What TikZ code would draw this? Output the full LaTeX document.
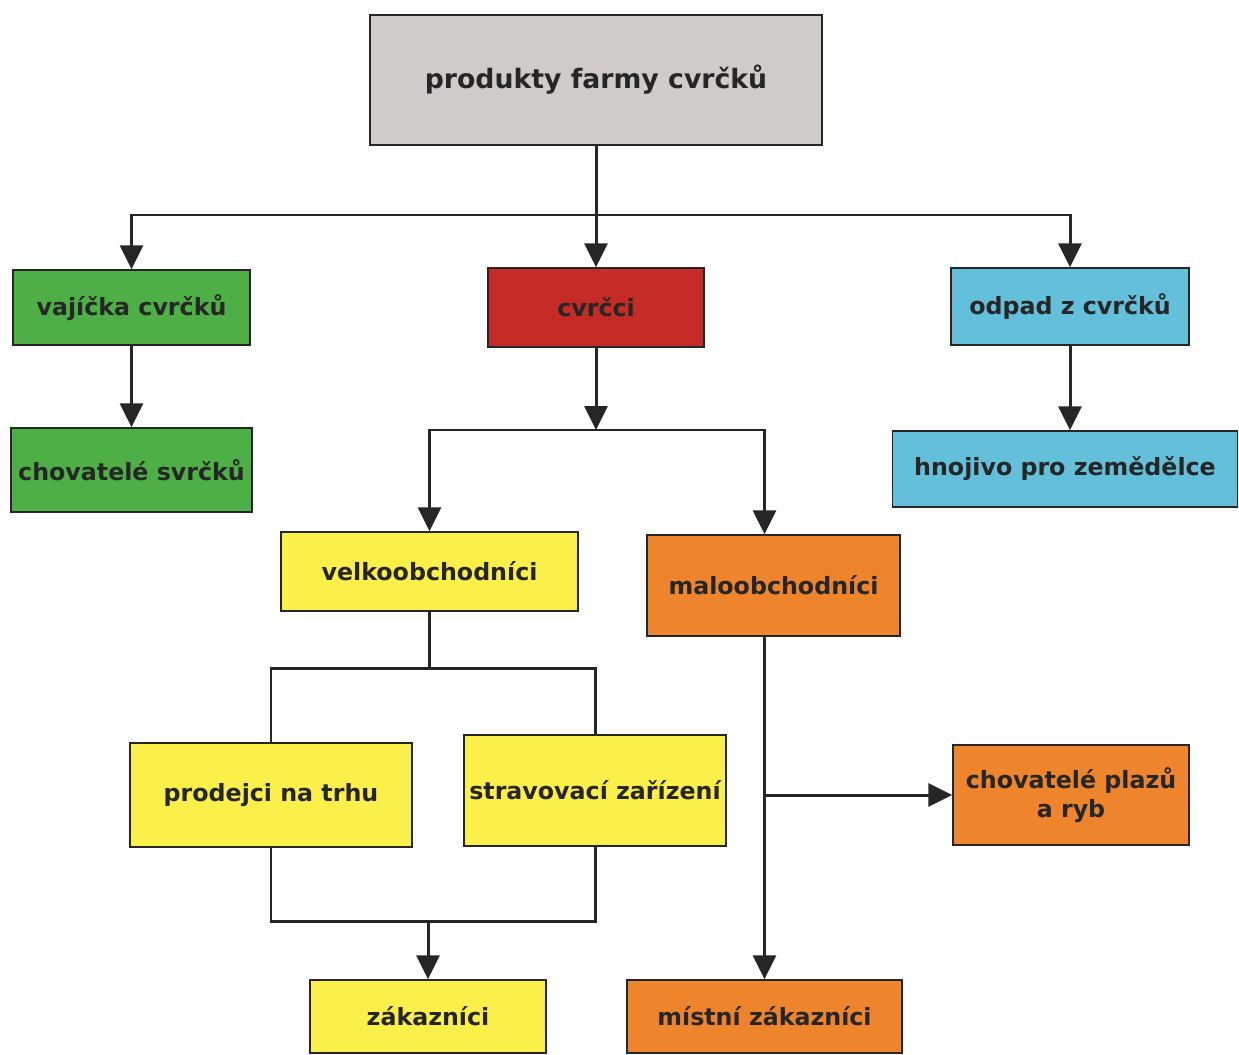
\documentclass[tikz,border=0pt]{standalone}
\usepackage{fontspec}
\setmainfont{DejaVu Sans}
\usetikzlibrary{arrows.meta}
\definecolor{boxgray}{HTML}{CFCBC9}
\definecolor{boxgreen}{HTML}{4DAF45}
\definecolor{boxred}{HTML}{C42B27}
\definecolor{boxblue}{HTML}{63BFDA}
\definecolor{boxyellow}{HTML}{FBEF4A}
\definecolor{boxorange}{HTML}{EE842C}
\definecolor{linegray}{HTML}{262626}
\begin{document}
\begin{tikzpicture}[x=0.02cm, y=-0.02cm,
    box/.style={draw=linegray, line width=0.8pt, inner sep=0pt, align=center,
      text=black!85, font=\bfseries\fontsize{13.5}{16.5}\selectfont},
    link/.style={draw=linegray, line width=1.7pt},
    arr/.style={link, -{Triangle[length=0.48cm, width=0.46cm]}}]
  \useasboundingbox (0,0) rectangle (1239,1054);
  \node[box, fill=boxgray, minimum width=452*0.02cm, minimum height=130*0.02cm,
    font=\bfseries\fontsize{15.2}{18}\selectfont] (farm) at (596,80) {produkty farmy cvrčků};
  \node[box, fill=boxgreen, minimum width=237*0.02cm, minimum height=75*0.02cm] (eggs) at (131.5,307.5) {vajíčka cvrčků};
  \node[box, fill=boxred, minimum width=216*0.02cm, minimum height=79*0.02cm] (crickets) at (596,307.5) {cvrčci};
  \node[box, fill=boxblue, minimum width=238*0.02cm, minimum height=77*0.02cm] (waste) at (1070,306.5) {odpad z cvrčků};
  \node[box, fill=boxgreen, minimum width=241*0.02cm, minimum height=84*0.02cm] (keepers) at (131.5,470) {chovatelé svrčků};
  \node[box, fill=boxblue, minimum width=345*0.02cm, minimum height=76*0.02cm] (fertilizer) at (1065,469) {hnojivo pro zemědělce};
  \node[box, fill=boxyellow, minimum width=297*0.02cm, minimum height=79*0.02cm] (wholesale) at (429.5,571.5) {velkoobchodníci};
  \node[box, fill=boxorange, minimum width=253*0.02cm, minimum height=101*0.02cm] (retail) at (773.5,585.5) {maloobchodníci};
  \node[box, fill=boxyellow, minimum width=282*0.02cm, minimum height=104*0.02cm] (market) at (271,795) {prodejci na trhu};
  \node[box, fill=boxyellow, minimum width=262*0.02cm, minimum height=111*0.02cm] (catering) at (595,790.5) {stravovací zařízení};
  \node[box, fill=boxorange, minimum width=236*0.02cm, minimum height=100*0.02cm] (reptiles) at (1071,795) {chovatelé plazů\\a ryb};
  \node[box, fill=boxyellow, minimum width=236*0.02cm, minimum height=73*0.02cm] (customers) at (428,1016.5) {zákazníci};
  \node[box, fill=boxorange, minimum width=275*0.02cm, minimum height=73*0.02cm] (local) at (764.5,1016.5) {místní zákazníci};

  \coordinate (split) at (596,215);
  \coordinate (cricksplit) at (596,430);
  \coordinate (wholesplit) at (429.5,668);
  \coordinate (join) at (428,921);

  \draw[arr] (farm) -- (crickets);
  \draw[arr] (split) -| (eggs.north);
  \draw[arr] (split) -| (waste.north);
  \draw[arr] (eggs) -- (keepers);
  \draw[arr] (waste.south) -- (waste.south |- fertilizer.north);
  \draw[arr] (crickets) -- (cricksplit);
  \draw[arr] (cricksplit) -| (wholesale.north);
  \draw[arr] (cricksplit) -| (local.north |- retail.north);
  \draw[link] (wholesale) -- (wholesplit);
  \draw[link] (wholesplit) -| (market.north);
  \draw[link] (wholesplit) -| (catering.north);
  \draw[link] (market.south) |- (join);
  \draw[link] (catering.south) |- (join);
  \draw[arr] (join) -- (customers);
  \draw[arr] (retail.south -| local.north) -- (local.north);
  \draw[arr] (reptiles.west -| local.north) -- (reptiles.west);
\end{tikzpicture}
\end{document}
